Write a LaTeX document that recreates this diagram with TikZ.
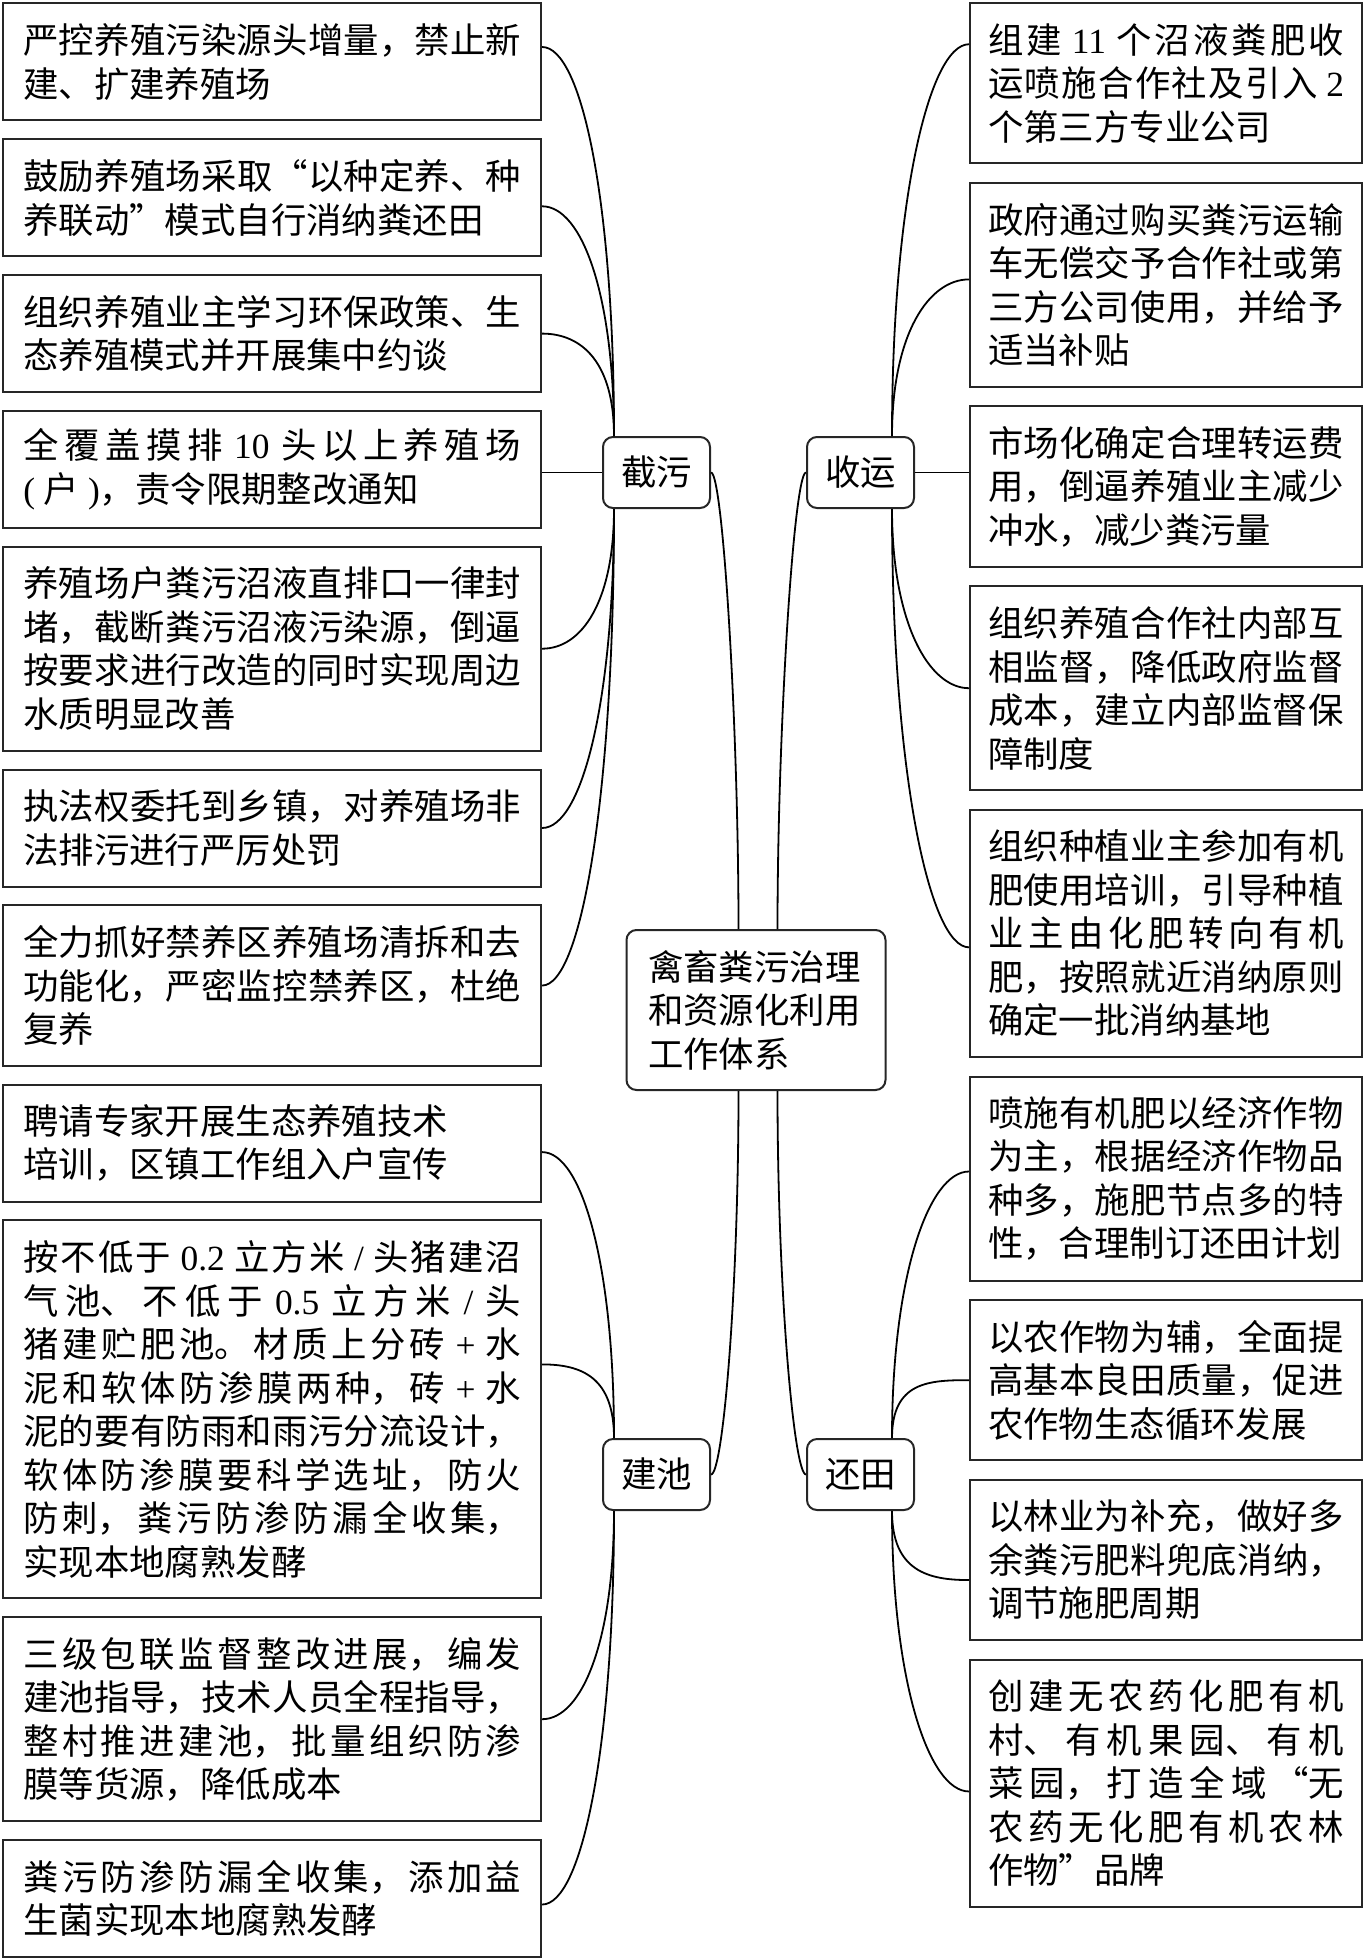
\documentclass[tikz,border=0pt]{standalone}
\usepackage{fontspec}
\setmainfont{Noto Sans CJK SC}
\newfontfamily\latinfont{Liberation Serif}
\newcommand{\lat}[1]{{\latinfont #1}}
\XeTeXlinebreaklocale "zh"
\XeTeXlinebreakskip=0pt plus 3pt
\tolerance=9999
\hbadness=10000
\usetikzlibrary{positioning}

\begin{document}
\begin{tikzpicture}[
  font=\fontsize{17.7pt}{21.75pt}\selectfont,
  leaf/.style={rectangle, draw=black!85, line width=1pt, align=justify,
               inner ysep=3pt, minimum height={#1*21.75pt+15pt}},
  lbox/.style={leaf=#1, text width=249pt, inner xsep=9.9pt},
  rbox/.style={leaf=#1, text width=178pt, inner xsep=9pt},
  hub/.style={rectangle, rounded corners=5pt, draw=black!85, line width=1pt,
              minimum width=53.5pt, minimum height=35.5pt, inner sep=2pt},
  core/.style={hub, text width=108pt, inner xsep=10.75pt, align=left, minimum height=80pt},
  link/.style={line width=0.9pt},
  twig/.style={link, out looseness=1.5, in distance=20pt}]
\useasboundingbox (-1.25pt,1.25pt) rectangle (680.25pt,-978.25pt);

% left column
\node[lbox=2, anchor=north west] (l1) at (0,0) {严控养殖污染源头增量，禁止新\linebreak 建、扩建养殖场};
\node[lbox=2, below=8.4pt of l1] (l2) {鼓励养殖场采取“以种定养、种\linebreak 养联动”模式自行消纳粪还田};
\node[lbox=2, below=8.4pt of l2] (l3) {组织养殖业主学习环保政策、生\linebreak 态养殖模式并开展集中约谈};
\node[lbox=2, below=8.4pt of l3] (l4) {全覆盖摸排 \lat{10} 头以上养殖场\linebreak \lat{( }户\lat{ )}，责令限期整改通知};
\node[lbox=4, below=8.4pt of l4] (l5) {养殖场户粪污沼液直排口一律封\linebreak 堵，截断粪污沼液污染源，倒逼\linebreak 按要求进行改造的同时实现周边\linebreak 水质明显改善};
\node[lbox=2, below=8.4pt of l5] (l6) {执法权委托到乡镇，对养殖场非\linebreak 法排污进行严厉处罚};
\node[lbox=3, below=8.4pt of l6] (l7) {全力抓好禁养区养殖场清拆和去\linebreak 功能化，严密监控禁养区，杜绝\linebreak 复养};
\node[lbox=2, below=8.4pt of l7] (l8) {聘请专家开展生态养殖技术\newline 培训，区镇工作组入户宣传};
\node[lbox=8, below=8.4pt of l8] (l9) {按不低于 \lat{0.2} 立方米 \lat{/} 头猪建沼\linebreak 气池、不低于 \lat{0.5} 立方米 \lat{/} 头\linebreak 猪建贮肥池。材质上分砖 \lat{+} 水\linebreak 泥和软体防渗膜两种，砖 \lat{+} 水\linebreak 泥的要有防雨和雨污分流设计，\linebreak 软体防渗膜要科学选址，防火\linebreak 防刺，粪污防渗防漏全收集，\linebreak 实现本地腐熟发酵};
\node[lbox=4, below=8.4pt of l9] (l10) {三级包联监督整改进展，编发\linebreak 建池指导，技术人员全程指导，\linebreak 整村推进建池，批量组织防渗\linebreak 膜等货源，降低成本};
\node[lbox=2, below=8.4pt of l10] (l11) {粪污防渗防漏全收集，添加益\linebreak 生菌实现本地腐熟发酵};

% right column
\node[rbox=3, anchor=north west] (r1) at (483.25pt,0.25pt) {组建 \lat{11} 个沼液粪肥收\linebreak 运喷施合作社及引入 \lat{2}\linebreak 个第三方专业公司};
\node[rbox=4, below=8.7pt of r1] (r2) {政府通过购买粪污运输\linebreak 车无偿交予合作社或第\linebreak 三方公司使用，并给予\linebreak 适当补贴};
\node[rbox=3, below=8.7pt of r2] (r3) {市场化确定合理转运费\linebreak 用，倒逼养殖业主减少\linebreak 冲水，减少粪污量};
\node[rbox=4, below=8.7pt of r3] (r4) {组织养殖合作社内部互\linebreak 相监督，降低政府监督\linebreak 成本，建立内部监督保\linebreak 障制度};
\node[rbox=5, below=8.7pt of r4] (r5) {组织种植业主参加有机\linebreak 肥使用培训，引导种植\linebreak 业主由化肥转向有机\linebreak 肥，按照就近消纳原则\linebreak 确定一批消纳基地};
\node[rbox=4, below=8.7pt of r5] (r6) {喷施有机肥以经济作物\linebreak 为主，根据经济作物品\linebreak 种多，施肥节点多的特\linebreak 性，合理制订还田计划};
\node[rbox=3, below=8.7pt of r6] (r7) {以农作物为辅，全面提\linebreak 高基本良田质量，促进\linebreak 农作物生态循环发展};
\node[rbox=3, below=8.7pt of r7] (r8) {以林业为补充，做好多\linebreak 余粪污肥料兜底消纳，\linebreak 调节施肥周期};
\node[rbox=5, below=8.7pt of r8] (r9) {创建无农药化肥有机\linebreak 村、有机果园、有机\linebreak 菜园，打造全域“无\linebreak 农药无化肥有机农林\linebreak 作物”品牌};

% middle
\node[core] (core) at (376.75pt,-503.75pt) {禽畜粪污治理\\和资源化利用\\工作体系};
\node[hub] (cut) at (327pt,-235pt) {截污};
\node[hub] (haul) at (429pt,-235pt) {收运};
\node[hub] (pool) at (327pt,-736pt) {建池};
\node[hub] (back) at (429pt,-736pt) {还田};

% hubs to core
\draw[link] (cut.east) .. controls +(0:6pt) and +(90:100pt) .. ([xshift=-8.75pt]core.north);
\draw[link] (haul.west) .. controls +(180:6pt) and +(90:100pt) .. ([xshift=10.75pt]core.north);
\draw[link] (pool.east) .. controls +(0:6pt) and +(-90:100pt) .. ([xshift=-8.75pt]core.south);
\draw[link] (back.west) .. controls +(180:6pt) and +(-90:100pt) .. ([xshift=10.75pt]core.south);

% hubs to boxes
\foreach \b/\s in {l1/7.5pt, l2/-4.25pt, l3/0pt}
  \draw[twig] ([xshift=6pt]cut.north west) to[out=90, in=0] ([yshift=\s]\b.east);
\draw[link] (cut.west) -- (cut.west -| l4.east);
\foreach \b/\s in {l5/0pt, l6/0pt, l7/0pt}
  \draw[twig] ([xshift=6pt]cut.south west) to[out=-90, in=0] ([yshift=\s]\b.east);
\foreach \b/\s in {l8/-4.5pt, l9/22.5pt}
  \draw[twig] ([xshift=6pt]pool.north west) to[out=90, in=0] ([yshift=\s]\b.east);
\foreach \b/\s in {l10/0pt, l11/-3pt}
  \draw[twig] ([xshift=6pt]pool.south west) to[out=-90, in=0] ([yshift=\s]\b.east);
\foreach \b/\s in {r1/19.5pt, r2/2.75pt}
  \draw[twig] ([xshift=-11.5pt]haul.north east) to[out=90, in=180] ([yshift=\s]\b.west);
\draw[link] (haul.east) -- (haul.east -| r3.west);
\foreach \b/\s in {r4/0pt, r5/-7pt}
  \draw[twig] ([xshift=-11.5pt]haul.south east) to[out=-90, in=180] ([yshift=\s]\b.west);
\foreach \b/\s in {r6/3.5pt, r7/0pt}
  \draw[twig] ([xshift=-11.5pt]back.north east) to[out=90, in=180] ([yshift=\s]\b.west);
\foreach \b/\s in {r8/-10pt, r9/-4pt}
  \draw[twig] ([xshift=-11.5pt]back.south east) to[out=-90, in=180] ([yshift=\s]\b.west);
\end{tikzpicture}
\end{document}
